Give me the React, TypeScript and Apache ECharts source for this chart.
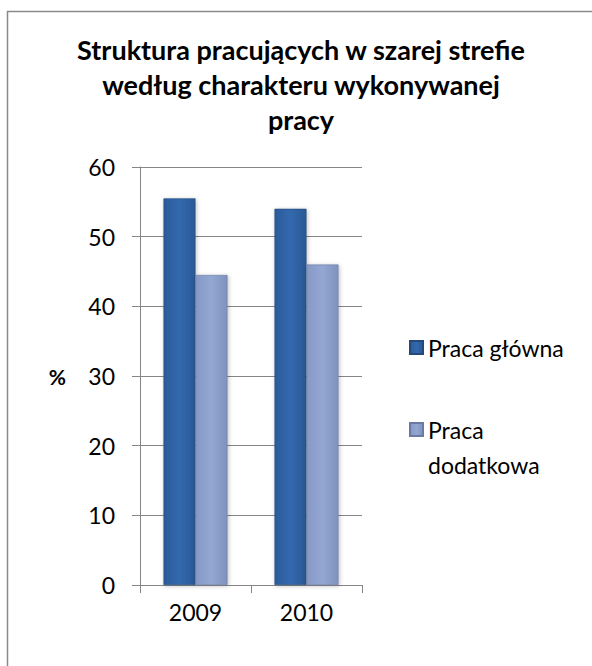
import React, { useEffect, useRef } from "react";
import * as echarts from "echarts";

const categories = ["2009", "2010"];
const seriesNames = ["Praca główna", "Praca dodatkowa"];
const pracaGlowna = [55.5, 54];
const pracaDodatkowa = [44.5, 46];
const yTicks = { min: 0, max: 60, interval: 10 };
const titleLines = ["Struktura pracujących w szarej strefie", "według charakteru wykonywanej", "pracy"];
const yAxisName = "%";

const FONT = "Lato, 'Open Sans', sans-serif";
const FS = 23;

export default function App() {
  const ref = useRef<HTMLDivElement>(null);
  useEffect(() => {
    document.body.style.margin = "0";
    if (!ref.current) return;
    const chart = echarts.init(ref.current, undefined, { renderer: "svg" });
    const darkGrad = new echarts.graphic.LinearGradient(0, 0, 1, 0, [
      { offset: 0, color: "#2b5b9a" },
      { offset: 0.5, color: "#3369ae" },
      { offset: 1, color: "#2a5894" },
    ]);
    const lightGrad = new echarts.graphic.LinearGradient(0, 0, 1, 0, [
      { offset: 0, color: "#8699c6" },
      { offset: 0.5, color: "#93a7d3" },
      { offset: 1, color: "#7f92bd" },
    ]);
    chart.setOption({
      animation: false,
      backgroundColor: "#ffffff",
      title: {
        text: titleLines.join("\n"),
        left: 296,
        top: 27,
        textAlign: "center",
        textStyle: { fontFamily: FONT, fontSize: 27, fontWeight: "bold", color: "#000", lineHeight: 35 },
      },
      graphic: [
        {
          type: "rect",
          shape: { x: 7.5, y: 11.5, width: 700, height: 800 },
          style: { fill: "none", stroke: "#8a8a8a", lineWidth: 1.5 },
          silent: true,
        },
      ],
      legend: [
        {
          data: [seriesNames[0]],
          orient: "vertical",
          left: 404,
          top: 331,
          itemWidth: 13,
          itemHeight: 13,
          itemGap: 0,
          icon: "rect",
          textStyle: { fontFamily: FONT, fontSize: FS, color: "#000" },
        },
        {
          data: [seriesNames[1]],
          orient: "vertical",
          left: 404,
          top: 372,
          itemWidth: 13,
          itemHeight: 13,
          itemGap: 0,
          icon: "rect",
          formatter: (n: string) => "\n" + n.replace(" ", "\n"),
          textStyle: { fontFamily: FONT, fontSize: FS, color: "#000", lineHeight: 35 },
        },
      ],
      grid: { left: 140, top: 167, right: 230, bottom: 81, containLabel: false },
      xAxis: {
        type: "category",
        data: categories,
        axisLine: { lineStyle: { color: "#868686" } },
        axisTick: { show: true, length: 8, lineStyle: { color: "#868686" } },
        axisLabel: { fontFamily: FONT, fontSize: FS, color: "#000", margin: 15 },
      },
      yAxis: {
        type: "value",
        min: yTicks.min,
        max: yTicks.max,
        interval: yTicks.interval,
        name: yAxisName,
        nameLocation: "middle",
        nameRotate: 0,
        nameGap: 74,
        nameTextStyle: { fontFamily: FONT, fontSize: 21, fontWeight: "bold", color: "#000" },
        axisLine: { show: true, lineStyle: { color: "#868686" } },
        axisTick: { show: true, length: 8, lineStyle: { color: "#868686" } },
        axisLabel: { fontFamily: FONT, fontSize: FS, color: "#000", margin: 25 },
        splitLine: { lineStyle: { color: "#868686" } },
      },
      series: [
        {
          name: seriesNames[0],
          type: "bar",
          data: pracaGlowna,
          barWidth: 32,
          barGap: "0%",
          itemStyle: { color: darkGrad, borderColor: "#24497a", borderWidth: 0.6, shadowColor: "rgba(0,0,0,0.25)", shadowBlur: 4, shadowOffsetX: 1, shadowOffsetY: 1 },
        },
        {
          name: seriesNames[1],
          type: "bar",
          data: pracaDodatkowa,
          barWidth: 32,
          barGap: "0%",
          itemStyle: { color: lightGrad, borderColor: "#6a7aa3", borderWidth: 0.6, shadowColor: "rgba(0,0,0,0.25)", shadowBlur: 4, shadowOffsetX: 1, shadowOffsetY: 1 },
        },
      ],
    });
    return () => chart.dispose();
  }, []);
  return <div ref={ref} style={{ width: 592, height: 666 }} />;
}
